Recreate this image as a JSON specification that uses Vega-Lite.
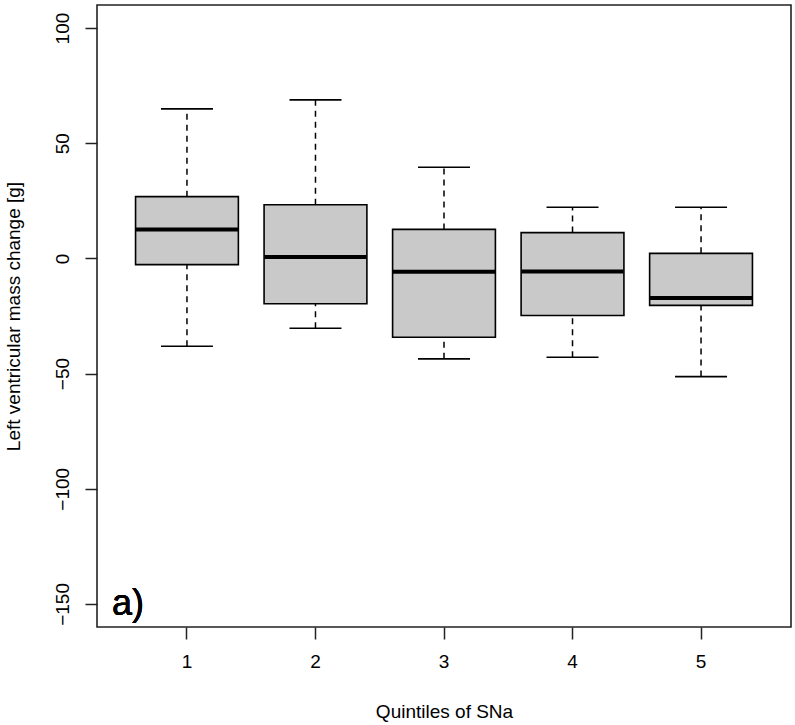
{
  "$schema": "https://vega.github.io/schema/vega-lite/v6.json",
  "width": 694,
  "height": 622,
  "autosize": {"type": "none"},
  "padding": {"left": 97, "top": 5, "right": 4, "bottom": 98},
  "background": "white",
  "config": {
    "font": "Liberation Sans",
    "view": {"stroke": "#222222", "strokeWidth": 1.6},
    "axis": {"grid": false, "domain": false, "tickColor": "#222222", "tickWidth": 1.5, "tickSize": 12,
             "labelFontSize": 19, "labelColor": "black", "titleFontSize": 19, "titleFontWeight": "normal", "titleColor": "black"}
  },
  "data": {
    "values": [
      {"quintile": "1", "lower": -38.1, "q1": -2.7, "median": 12.6, "q3": 26.8, "upper": 64.9},
      {"quintile": "2", "lower": -30.3, "q1": -19.7, "median": 0.6, "q3": 23.3, "upper": 68.8},
      {"quintile": "3", "lower": -43.6, "q1": -34.2, "median": -5.8, "q3": 12.6, "upper": 39.6},
      {"quintile": "4", "lower": -42.9, "q1": -24.8, "median": -5.7, "q3": 11.2, "upper": 22.2},
      {"quintile": "5", "lower": -51.3, "q1": -20.4, "median": -17.2, "q3": 2.2, "upper": 22.2}
    ]
  },
  "encoding": {
    "x": {
      "field": "quintile", "type": "ordinal",
      "scale": {"type": "band", "paddingInner": 0.2, "paddingOuter": 0.3},
      "axis": {"title": "Quintiles of SNa", "labelAngle": 0, "labelPadding": 13, "titlePadding": 31}
    }
  },
  "layer": [
    {
      "mark": {"type": "rule", "strokeDash": [6, 5], "strokeWidth": 1.5, "color": "black"},
      "encoding": {
        "y": {"field": "q3", "type": "quantitative",
              "scale": {"domain": [-160, 110], "nice": false, "zero": false},
              "axis": {"title": "Left ventricular mass change [g]", "values": [-150, -100, -50, 0, 50, 100],
                       "labelAngle": 270, "labelAlign": "center", "labelBaseline": "bottom", "labelPadding": 13,
                       "titlePadding": 30}},
        "y2": {"field": "upper"}
      }
    },
    {
      "mark": {"type": "rule", "strokeDash": [6, 5], "strokeWidth": 1.5, "color": "black"},
      "encoding": {
        "y": {"field": "lower", "type": "quantitative"},
        "y2": {"field": "q1"}
      }
    },
    {
      "mark": {"type": "bar", "fill": "#c9c9c9", "stroke": "black", "strokeWidth": 1.6},
      "encoding": {
        "y": {"field": "q1", "type": "quantitative"},
        "y2": {"field": "q3"}
      }
    },
    {
      "mark": {"type": "tick", "color": "black", "size": 102, "thickness": 4, "opacity": 1},
      "encoding": {"y": {"field": "median", "type": "quantitative"}}
    },
    {
      "mark": {"type": "tick", "color": "black", "size": 52, "thickness": 1.6, "opacity": 1},
      "encoding": {"y": {"field": "upper", "type": "quantitative"}}
    },
    {
      "mark": {"type": "tick", "color": "black", "size": 52, "thickness": 1.6, "opacity": 1},
      "encoding": {"y": {"field": "lower", "type": "quantitative"}}
    },
    {
      "mark": {"type": "text", "fontSize": 36, "align": "left", "baseline": "alphabetic", "dx": -75, "dy": 11, "color": "black"},
      "encoding": {
        "x": {"datum": "1"},
        "y": {"datum": -150},
        "text": {"value": "a)"}
      }
    }
  ]
}
